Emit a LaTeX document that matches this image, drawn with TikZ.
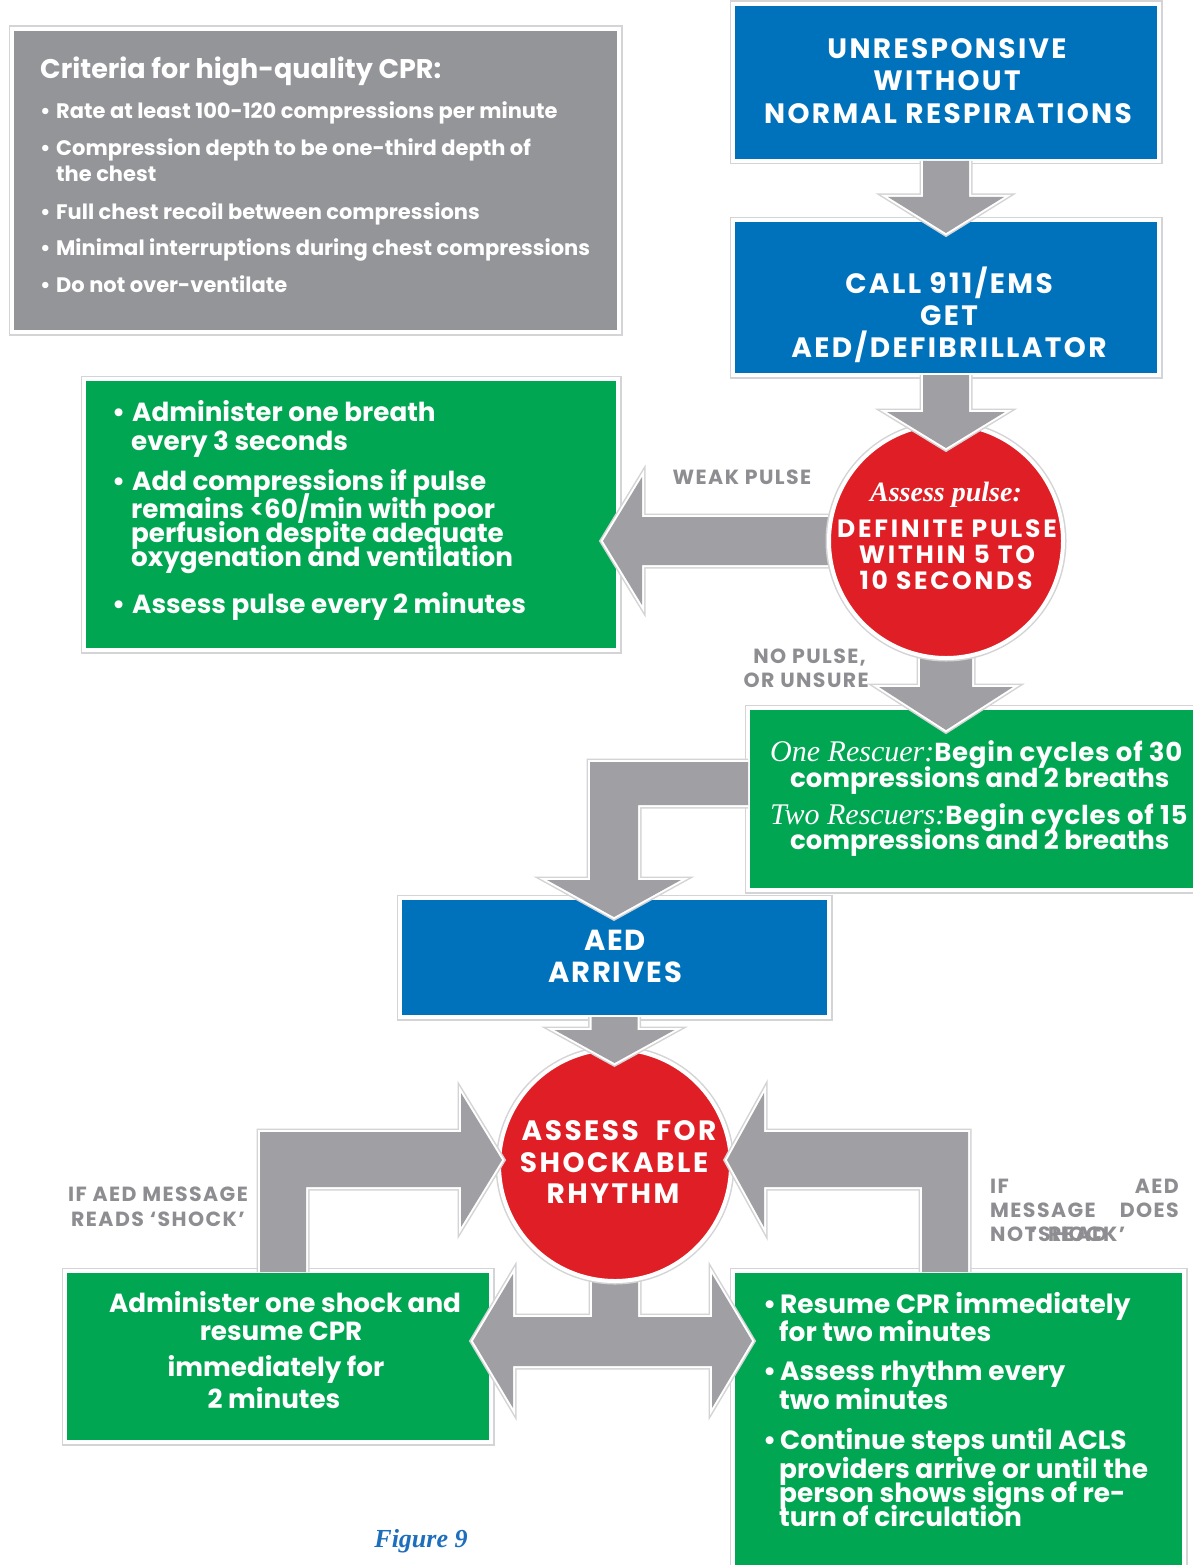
\documentclass[tikz,border=0pt]{standalone}
\usepackage{fontspec}
\setmainfont{Poppins}
\newfontfamily\serifit{Liberation Serif}
\definecolor{cblue}{RGB}{0,114,188}
\definecolor{cgreen}{RGB}{0,166,81}
\definecolor{cred}{RGB}{224,30,37}
\definecolor{cgray}{RGB}{147,149,152}
\definecolor{agray}{RGB}{160,160,164}
\definecolor{lgray}{RGB}{142,142,146}
\definecolor{figblue}{RGB}{30,110,190}
\definecolor{rim}{RGB}{212,212,214}
\newcommand\fatarrow[1]{\draw[halo] #1; \fill[agray] #1 -- cycle;}
\newcommand\bul[1]{\makebox[#1][l]{\textbullet}}
\newcommand\ls[1]{\addfontfeatures{LetterSpace=#1}}
\begin{document}
\begin{tikzpicture}[x=1pt,y=-1pt,
  rimst/.style={preaction={draw=rim,line width=7pt}, draw=white, line width=4pt},
  box/.style={rectangle, rimst, inner sep=0pt, outer sep=0pt},
  disc/.style={circle, rimst, fill=cred, inner sep=0pt, outer sep=0pt, minimum size=#1},
  halo/.style={preaction={draw=rim,line width=7pt,line join=miter}, draw=white, line width=4pt, line join=miter},
  wt/.style={text=white, inner sep=0pt, font=\bfseries\fontsize{#1}{#1}\selectfont, yshift={-0.28*#1}},
  gt/.style={text=lgray, inner sep=0pt, font=\bfseries\fontsize{#1}{#1}\selectfont\ls{7}, yshift={-0.28*#1}},
  sit/.style={text=white, inner sep=0pt, yshift=-7pt}]
\fill[white] (0,0) rectangle (1193,1565);
\useasboundingbox (0,0) rectangle (1193,1565);

% boxes
\node[box, fill=cgray, minimum width=607pt, minimum height=303pt] (crit) at (315.5,180.5) {};
\node[box, fill=cblue, minimum width=426pt, minimum height=157pt] (b1) at (946,82.5) {};
\node[box, fill=cblue, minimum width=426pt, minimum height=155pt] (b2) at (946,297.5) {};
\node[box, fill=cgreen, minimum width=534pt, minimum height=271pt] (g1) at (351,514.5) {};
\node[box, fill=cgreen, minimum width=452pt, minimum height=182pt] (g2) at (974,799) {};
\node[box, fill=cblue, minimum width=429pt, minimum height=119pt] (aed) at (614.5,957.5) {};
\node[box, fill=cgreen, minimum width=426pt, minimum height=171pt] (g3) at (278,1356.5) {};
\node[box, fill=cgreen, minimum width=451pt, minimum height=309pt] (g4) at (958.5,1425.5) {};

% circle positions
\coordinate (c1c) at (946,541);
\coordinate (c2c) at (615,1165);

% arrows leaving circles (under circles)
\begin{scope}[shift={(c1c)}]
\fatarrow{(0,-24) -- (-304,-24) -- (-304,-64) -- (-343,0) -- (-304,64) -- (-304,24) -- (0,24)}
\fatarrow{(-26,0) -- (-26,146) -- (-67,146) -- (0,189) -- (67,146) -- (26,146) -- (26,0)}
\end{scope}
\begin{scope}[shift={(c2c)}]
\fatarrow{(-23,0) -- (-23,152) -- (-102,152) -- (-102,109) -- (-142,176) -- (-102,243) -- (-102,201) -- (97,201) -- (97,243) -- (137,176) -- (97,109) -- (97,152) -- (23,152) -- (23,0)}
\end{scope}

% circles
\node[disc=234pt] (c1) at (c1c) {};
\node[disc=232pt] (c2) at (c2c) {};

% arrows entering
\begin{scope}[shift={(b1.south)}]
\fatarrow{(-23,0) -- (-23,36) -- (-58,36) -- (0,72) -- (58,36) -- (23,36) -- (23,0)}
\end{scope}
\begin{scope}[shift={(b2.south)}]
\fatarrow{(-23,0) -- (-23,37) -- (-59,37) -- (0,73) -- (59,37) -- (23,37) -- (23,0)}
\end{scope}
\begin{scope}[shift={(g2.west)}]
\fatarrow{(0,-37) -- (-158,-37) -- (-158,81) -- (-201,81) -- (-134,118) -- (-67,81) -- (-110,81) -- (-110,6) -- (0,6)}
\end{scope}
\begin{scope}[shift={(aed.south)}]
\fatarrow{(-23,0) -- (-23,13) -- (-60,13) -- (0,46) -- (60,13) -- (23,13) -- (23,0)}
\end{scope}
\begin{scope}[shift={(g3.north)}]
\fatarrow{(-18,1) -- (-18,-139) -- (183,-139) -- (183,-178) -- (224,-111) -- (183,-44) -- (183,-84) -- (28,-84) -- (28,1)}
\end{scope}
\begin{scope}[shift={(g4.north)}]
\fatarrow{(9.5,1) -- (9.5,-139) -- (-194.5,-139) -- (-194.5,-178) -- (-231.5,-111) -- (-194.5,-44) -- (-194.5,-84) -- (-36.5,-84) -- (-36.5,1)}
\end{scope}

% ---- texts ----
% criteria
\node[wt=27, anchor=mid west] (ct0) at (40,68) {Criteria for high-quality CPR:};
\node[wt=21, anchor=mid west] (ct1) at (40,110) {\bul{16pt}Rate at least 100-120 compressions per minute};
\node[wt=21, anchor=mid west] (ct2) at (40,147) {\bul{16pt}Compression depth to be one-third depth of};
\node[wt=21, anchor=mid west] (ct3) at (56,173) {the chest};
\node[wt=21, anchor=mid west] (ct4) at (40,211) {\bul{16pt}Full chest recoil between compressions};
\node[wt=21, anchor=mid west] (ct5) at (40,247) {\bul{16pt}Minimal interruptions during chest compressions};
\node[wt=21, anchor=mid west] (ct6) at (40,284) {\bul{16pt}Do not over-ventilate};

% blue boxes
\node[wt=28, anchor=mid] (b1a) at (947,48) {\ls{8.5}UNRESPONSIVE};
\node[wt=28, anchor=mid] (b1b) at (947,80) {\ls{8.5}WITHOUT};
\node[wt=28, anchor=mid] (b1c) at (948,113) {\ls{8.5}NORMAL RESPIRATIONS};
\node[wt=28, anchor=mid] (b2a) at (949,283) {\ls{8.5}CALL 911/EMS};
\node[wt=28, anchor=mid] (b2b) at (949,315) {\ls{8.5}GET};
\node[wt=28, anchor=mid] (b2c) at (949,347) {\ls{8.5}AED/DEFIBRILLATOR};

% circle 1
\node[sit, font=\serifit\bfseries\itshape\fontsize{28}{28}\selectfont, anchor=mid] (c1a) at (946,492) {Assess pulse:};
\node[wt=25, anchor=mid] (c1b) at (947,528) {\ls{11}DEFINITE PULSE};
\node[wt=25, anchor=mid] (c1c2) at (947,554) {\ls{11}WITHIN 5 TO};
\node[wt=25, anchor=mid] (c1d) at (946,580) {\ls{11}10 SECONDS};

\node[gt=20.5, anchor=mid] (weak) at (742,476) {WEAK PULSE};
\node[gt=20.5, anchor=mid east] (np1) at (866,655) {NO PULSE,};
\node[gt=20.5, anchor=mid east] (np2) at (869,679) {OR UNSURE};

% green 1
\node[wt=26.2, anchor=mid west] (g1a) at (112,411) {\bul{20pt}Administer one breath};
\node[wt=26.2, anchor=mid west] (g1b) at (131,440) {every 3 seconds};
\node[wt=26.2, anchor=mid west] (g1c) at (112,480) {\bul{20pt}Add compressions if pulse};
\node[wt=26.2, anchor=mid west] (g1d) at (131,508) {remains <60/min with poor};
\node[wt=26.2, anchor=mid west] (g1e) at (131,532) {perfusion despite adequate};
\node[wt=26.2, anchor=mid west] (g1f) at (131,556) {oxygenation and ventilation};
\node[wt=26.2, anchor=mid west] (g1g) at (112,603) {\bul{20pt}Assess pulse every 2 minutes};

% green 2
\node[wt=26, anchor=mid west] (g2a) at (770,751) {{\serifit\mdseries\itshape\fontsize{30}{30}\selectfont One Rescuer:}\ls{3}Begin cycles of 30};
\node[wt=26, anchor=mid west] (g2b) at (790,777) {compressions and 2 breaths};
\node[wt=26, anchor=mid west] (g2c) at (770,814) {{\serifit\mdseries\itshape\fontsize{30}{30}\selectfont Two Rescuers:}\ls{3}Begin cycles of 15};
\node[wt=26, anchor=mid west] (g2d) at (790,839) {compressions and 2 breaths};

% AED
\node[wt=29, anchor=mid] (aeda) at (615,940) {\ls{6.5}AED};
\node[wt=29, anchor=mid] (aedb) at (615,972) {\ls{6.5}ARRIVES};

% circle 2
\node[wt=28, anchor=mid] (c2a) at (619,1130) {\ls{9}ASSESS\ \ FOR};
\node[wt=28, anchor=mid] (c2b) at (614,1162) {\ls{9}SHOCKABLE};
\node[wt=28, anchor=mid] (c2d) at (613,1193) {\ls{9}RHYTHM};

% side labels
\node[gt=20.5, anchor=mid] (l1) at (158,1193) {IF AED MESSAGE};
\node[gt=20.5, anchor=mid] (l2) at (158,1218) {READS ‘SHOCK’};
\node[gt=20.5, anchor=mid west] (r1) at (990,1185) {IF};
\node[gt=20.5, anchor=mid east] (r2) at (1179,1185) {AED};
\node[gt=20.5, anchor=mid west] (r3) at (990,1209) {MESSAGE};
\node[gt=20.5, anchor=mid east] (r4) at (1179,1209) {DOES};
\node[gt=20.5, anchor=mid west] (r5) at (990,1233) {NOT};
\node[gt=20.5, anchor=mid west] (r6) at (1030,1233) {‘SHOCK’};
\node[gt=20.5, anchor=mid west] (r7) at (1048,1233) {READ};

% green 3
\node[wt=26.2, anchor=mid] (g3a) at (285,1302) {Administer one shock and};
\node[wt=26.2, anchor=mid] (g3b) at (281,1330) {resume CPR};
\node[wt=26.2, anchor=mid] (g3c) at (276,1366) {immediately for};
\node[wt=26.2, anchor=mid] (g3d) at (274,1398) {2 minutes};

% green 4
\node[wt=26.4, anchor=mid west] (g4a) at (763,1303) {\bul{17pt}Resume CPR immediately};
\node[wt=26.4, anchor=mid west] (g4b) at (779,1331) {for two minutes};
\node[wt=26.4, anchor=mid west] (g4c) at (763,1370) {\bul{17pt}Assess rhythm every};
\node[wt=26.4, anchor=mid west] (g4d) at (779,1399) {two minutes};
\node[wt=26.4, anchor=mid west] (g4e) at (763,1439) {\bul{17pt}Continue steps until ACLS};
\node[wt=26.4, anchor=mid west] (g4f) at (779,1468) {providers arrive or until the};
\node[wt=26.4, anchor=mid west] (g4g) at (779,1492) {person shows signs of re-};
\node[wt=26.4, anchor=mid west] (g4h) at (779,1516) {turn of circulation};

% caption
\node[sit, text=figblue, font=\serifit\bfseries\itshape\fontsize{26}{26}\selectfont, anchor=mid] (fig) at (421,1538) {Figure 9};
\end{tikzpicture}
\end{document}
